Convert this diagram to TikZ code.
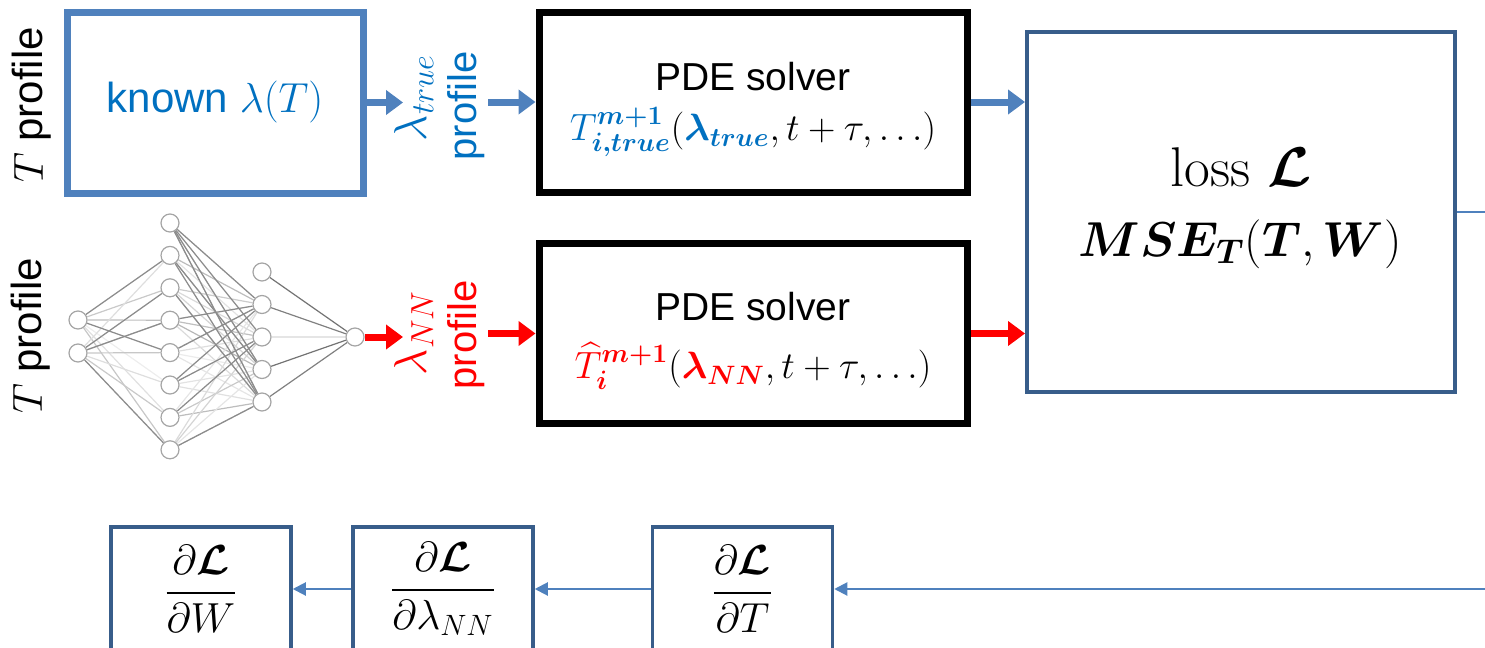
\RequirePackage{fix-cm}
\documentclass[tikz,border=0pt]{standalone}
\usepackage{amsmath,bm}
\usepackage{fontspec}
\newfontfamily\arial{Liberation Sans}
\usetikzlibrary{arrows.meta,backgrounds}
\definecolor{boxblue}{RGB}{79,129,189}
\definecolor{txtblue}{RGB}{0,112,192}
\definecolor{lossblue}{RGB}{56,93,138}
\definecolor{nnred}{RGB}{255,0,0}
\definecolor{nngray}{RGB}{165,165,165}
\newcommand\lblfont{\arial\fontsize{20}{27}\selectfont}
\newcommand\sidefont{\arial\fontsize{21}{25}\selectfont}
\newcommand\knownfont{\arial\fontsize{21}{25}\selectfont}
\newcommand\pdefont{\arial\fontsize{19.5}{23}\selectfont}
\newcommand\formfont{\fontsize{19}{22}\selectfont}
\newcommand\lossfont{\fontsize{28}{32}\selectfont}
\newcommand\msefont{\fontsize{24.5}{28}\selectfont}
\newcommand\fracfont{\fontsize{21}{25}\selectfont}
\newcommand\lamfont{\fontsize{23}{27}\selectfont}
\tikzset{
  kbox/.style={draw=boxblue, line width=3.5pt, minimum width=148pt, minimum height=90.5pt, inner sep=0pt},
  pdebox/.style={draw=black, line width=3.5pt, minimum width=214pt, minimum height=90pt, inner sep=0pt},
  lossbox/.style={draw=lossblue, line width=2pt, minimum width=214pt, minimum height=180pt, inner sep=0pt},
  dbox/.style={draw=lossblue, line width=1.75pt, minimum width=90pt, minimum height=62pt, inner sep=0pt, font=\fracfont},
  fatblue/.style={draw=boxblue, line width=3.5pt, -{Triangle[length=8.5pt,width=12pt]}},
  fatred/.style={draw=nnred, line width=3.5pt, -{Triangle[length=8.5pt,width=12pt]}},
  thinarrow/.style={draw=boxblue, line width=1pt, -{Triangle[length=6.5pt,width=6.5pt]}},
  thinline/.style={draw=boxblue, line width=1pt},
  lblrot/.style={rotate=90, inner sep=0pt},
  txt/.style={inner sep=0pt},
  neuron/.style={circle, draw=nngray, fill=white, line width=0.6pt, minimum size=9pt, inner sep=0pt},
  nnedge/.style={line width=0.6pt},
}
\begin{document}
\begin{tikzpicture}[x=0.5pt,y=-0.5pt]
\useasboundingbox (0,0) rectangle (1485,648);
\clip (0,0) rectangle (1485,648);

% side labels
\node[lblrot, font=\sidefont] (tp1) at (32,105) {$T$ profile};
\node[lblrot, font=\sidefont] (tp2) at (31,336) {$T$ profile};

% known box
\node[kbox, font=\knownfont, text=txtblue] (known) at (215,102.5) {known $\lambda(T)$};

% PDE boxes
\node[pdebox] (pde1) at (753,102) {};
\node[txt, font=\pdefont] (pde1t) at (753,77) {PDE solver};
\node[txt, font=\formfont] (pde1f) at (753,132) {$\textcolor{txtblue}{T^{\boldsymbol{m+1}}_{\boldsymbol{i,true}}}(\textcolor{txtblue}{\boldsymbol{\lambda_{true}}}, t+\tau, \ldots)$};

\node[pdebox] (pde2) at (753,333.5) {};
\node[txt, font=\pdefont] (pde2t) at (753,307) {PDE solver};
\node[txt, font=\formfont] (pde2f) at (753,366) {$\textcolor{nnred}{\widehat{T}^{\boldsymbol{m+1}}_{\boldsymbol{i}}}(\textcolor{nnred}{\boldsymbol{\lambda_{NN}}}, t+\tau, \ldots)$};

% loss box
\node[lossbox] (loss) at (1241,212) {};
\node[txt, font=\lossfont] (losst) at (1241,167) {loss $\boldsymbol{\mathcal{L}}$};
\node[txt, font=\msefont] (mse) at (1240,244) {$\boldsymbol{MSE_T}(\boldsymbol{T},\boldsymbol{W})$};

% lambda labels
\node[lblrot, font=\lamfont, text=txtblue] (lt1) at (414,98) {$\lambda_{true}$};
\node[lblrot, font=\lblfont, text=txtblue] (lt2) at (466,106) {profile};
\node[lblrot, font=\lamfont, text=nnred] (ln1) at (414,333) {$\lambda_{NN}$};
\node[lblrot, font=\lblfont, text=nnred] (ln2) at (466,335) {profile};

% neural network
\foreach \i/\y in {1/320,2/353} \node[neuron] (i\i) at (78,\y) {};
\foreach \j in {1,...,8} \node[neuron] (a\j) at (170,{223+(\j-1)*32.4}) {};
\foreach \k in {1,...,5} \node[neuron] (b\k) at (262,{272+(\k-1)*32.5}) {};
\node[neuron] (o) at (355,337) {};

\begin{scope}[on background layer]
\pgfmathsetseed{11}
\foreach \i in {1,2} \foreach \j in {2,...,8} {\pgfmathsetmacro\g{int(6+random(0,20))}\draw[nnedge, black!\g] (i\i) -- (a\j);}
\foreach \j in {1,...,8} \foreach \k in {2,...,5} {\pgfmathsetmacro\g{int(6+random(0,22))}\draw[nnedge, black!\g] (a\j) -- (b\k);}
\foreach \p/\q in {i1/a2,i1/a5,i2/a3,i2/a4,i2/a8,a1/b2,a1/b3,a1/b4,a1/b5,a2/b4,a2/b5,a3/b5,a4/b2,a5/b2,a6/b2,a6/b3,a7/b3,a8/b5}
  \draw[nnedge, black!45] (\p) -- (\q);
\foreach \k/\g in {1/55,2/50,3/10,4/55,5/50} \draw[nnedge, black!\g] (b\k) -- (o);
\end{scope}

% connectors
\coordinate (lt-in) at (403,102.5);
\coordinate (lt-out) at (488,102);
\coordinate (ln-in) at (403,337);
\coordinate (ln-out) at (488,333.5);
\draw[fatblue] (known.east) -- (lt-in);
\draw[fatblue] (lt-out) -- (pde1.west);
\draw[fatblue] (pde1.east) -- (pde1.east -| loss.west);
\draw[fatred] (o) -- (ln-in);
\draw[fatred] (ln-out) -- (pde2.west);
\draw[fatred] (pde2.east) -- (pde2.east -| loss.west);

% backward boxes
\node[dbox] (d1) at (201,589) {$\dfrac{\partial\boldsymbol{\mathcal{L}}}{\partial W}$};
\node[dbox] (d2) at (443,589) {$\dfrac{\partial\boldsymbol{\mathcal{L}}}{\partial \lambda_{NN}}$};
\node[dbox] (d3) at (742.5,589) {$\dfrac{\partial\boldsymbol{\mathcal{L}}}{\partial T}$};

\coordinate (rt) at (1485,212);
\coordinate (rb) at (1485,589);
\draw[thinline] (loss.east) -- (rt);
\draw[thinarrow] (rb) -- (d3.east);
\draw[thinarrow] (d3.west) -- (d2.east);
\draw[thinarrow] (d2.west) -- (d1.east);
\end{tikzpicture}
\end{document}
